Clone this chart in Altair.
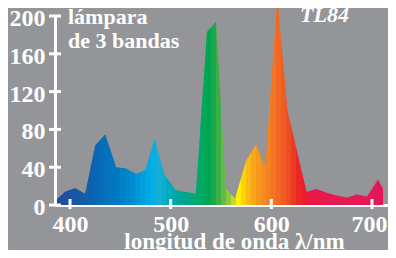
import altair as alt
import pandas as pd

# spectral power distribution
wavelength = [387, 395, 405, 415, 425, 435, 446, 455, 466, 475, 484, 494, 505, 514, 525,
              536, 545, 555, 564, 575, 585, 594, 606, 616, 635, 645, 655, 665, 675, 685,
              695, 706, 711]
power = [6, 14, 18, 12, 63, 75, 40, 39, 33, 37, 70, 32, 16, 14, 12,
         183, 194, 17, 7, 47, 64, 40, 220, 100, 14, 17, 13, 10, 8, 11,
         9, 27, 17]

y_ticks = [0, 40, 80, 120, 160, 200]
x_ticks = [400, 500, 600, 700]

band_start = list(range(385, 715, 5))
band_colors = [
    "#1b4c9a", "#1c4f9d", "#1b52a0", "#1855a3", "#1658a6", "#135caa", "#1060ad", "#0c64b1",
    "#0968b4", "#066db8", "#0472bc", "#0277bf", "#007bc3", "#0080c7", "#0086cb", "#008dd0",
    "#0096d7", "#00a0df", "#00a9e5", "#08aee2", "#14b0d8", "#0caecb", "#00abbd", "#00a9af",
    "#00a7a1", "#00a693", "#00a685", "#00a778", "#00a86a", "#00a85c", "#00a651", "#1aa84a",
    "#3aaf48", "#65b946", "#8fc73f", "#c6da2c", "#fff200", "#fdd30c", "#fbb918", "#f9a61b",
    "#f7981d", "#f68c1f", "#f58020", "#f37421", "#f26822", "#f05b23", "#ee4c24", "#ed3a25",
    "#ec2627", "#eb1e2e", "#ea1a3d", "#e91947", "#e9194c", "#e8194f", "#e8194f", "#e8194f",
    "#e8194f", "#e81950", "#e71852", "#e71854", "#e61856", "#e61857", "#e61858", "#e5175a",
    "#e5175a", "#e5175a",
]

label_lines = ["lámpara", "de 3 bandas"]
lamp_name = "TL84"
x_title = "longitud de onda λ/nm"

BG = "#939598"
FONT = "Liberation Serif"

lo, hi = min(wavelength), max(wavelength)


def off(w):
    return min(max((w - lo) / (hi - lo), 0.0), 1.0)


stops = []
for s, c in zip(band_start, band_colors):
    stops.append(alt.GradientStop(color=c, offset=off(s)))
    stops.append(alt.GradientStop(color=c, offset=off(s + 5)))

grad = alt.LinearGradient(gradient="linear", stops=stops, x1=0, x2=1, y1=0, y2=0)

df = pd.DataFrame({"wl": wavelength, "val": power})
df_xt = pd.DataFrame({"wl": x_ticks})
df_yt = pd.DataFrame({"val": y_ticks})

xscale = alt.Scale(domain=[385.1, 715.9], nice=False, zero=False)
yscale = alt.Scale(domain=[0, 200], nice=False)

common_axis = dict(
    ticks=False, tickSize=0, grid=False,
    labelFont=FONT, labelFontSize=24, labelFontWeight="bold", labelColor="white",
    domainColor="white", domainWidth=3, labelFlush=False,
)
xaxis = alt.Axis(values=x_ticks, title=x_title, labelPadding=7,
                 labelOffset={"condition": {"test": "datum.value == 700", "value": -3}, "value": 0},
                 titleFont=FONT, titleFontSize=23, titleFontWeight="bold", titleColor="white",
                 titleX=179, titleY=43, titleBaseline="alphabetic", titleAlign="center",
                 **common_axis)
yaxis = alt.Axis(values=y_ticks, title=None, labelPadding=10, labelOffset=2.5, **common_axis)

area = alt.Chart(df).mark_area(color=grad, clip=False).encode(
    x=alt.X("wl:Q", scale=xscale, axis=xaxis),
    y=alt.Y("val:Q", scale=yscale, axis=yaxis),
)

xt = alt.Chart(df_xt).mark_rule(color="white", strokeWidth=3).encode(
    x=alt.X("wl:Q", scale=xscale, axis=xaxis),
    y=alt.value(183), y2=alt.value(193),
)
yt = alt.Chart(df_yt).mark_rule(color="white", strokeWidth=3).encode(
    y=alt.Y("val:Q", scale=yscale, axis=yaxis),
    x=alt.value(-6), x2=alt.value(6),
)

txt_style = dict(font=FONT, fontSize=22, fontWeight="bold", color="white",
                 align="left", baseline="alphabetic")

txt1 = alt.Chart(pd.DataFrame({"t": [label_lines[0]]})).mark_text(**txt_style).encode(
    text="t:N", x=alt.value(13), y=alt.value(8))
txt2 = alt.Chart(pd.DataFrame({"t": [label_lines[1]]})).mark_text(**txt_style).encode(
    text="t:N", x=alt.value(13), y=alt.value(32))
txt3 = alt.Chart(pd.DataFrame({"t": [lamp_name]})).mark_text(fontStyle="italic", **txt_style).encode(
    text="t:N", x=alt.value(245), y=alt.value(6))

chart = alt.layer(area, xt, yt, txt1, txt2, txt3).properties(
    width=333, height=189,
    padding={"left": 47, "top": 8, "right": 0, "bottom": 45},
    autosize=alt.AutoSizeParams(type="none"),
).configure(background=BG).configure_view(stroke=None)

chart.save("out.html", embed_options={"renderer": "svg", "actions": False})
